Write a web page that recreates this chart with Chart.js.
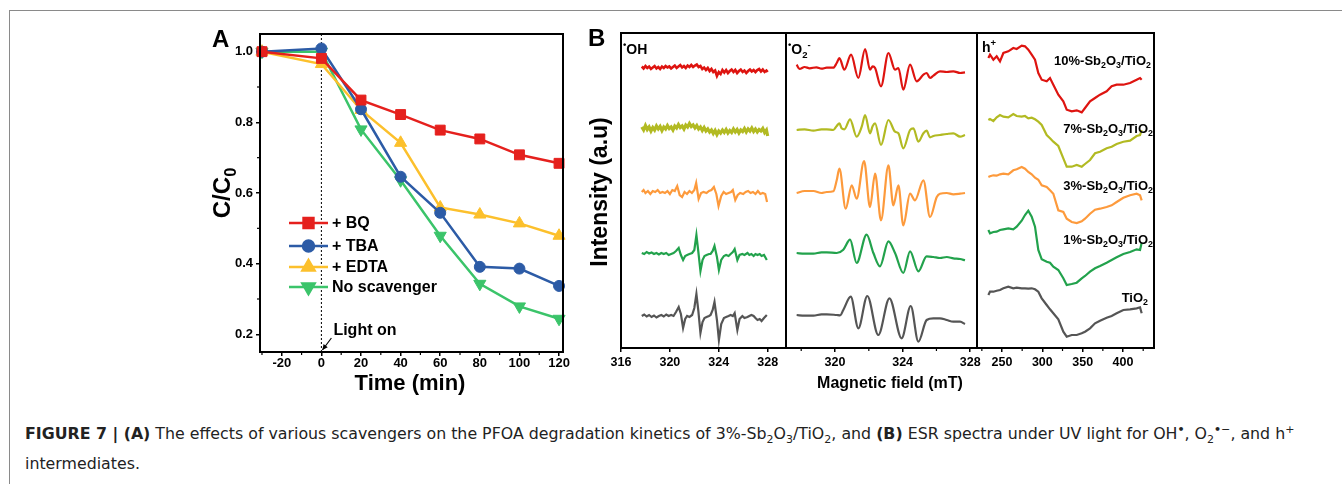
<!DOCTYPE html>
<html lang="en">
<head>
<meta charset="UTF-8">
<title>Figure 7</title>
<script src="https://cdn.jsdelivr.net/npm/chart.js@4.4.0/dist/chart.umd.min.js"></script>
<style>
body { margin: 0; width: 1342px; height: 484px; overflow: hidden; background: #fff; font-family: "Liberation Sans", Arial, sans-serif; position: relative; }
#frame { position: absolute; left: 9px; top: 10px; width: 1400px; height: 500px; border-left: 1.5px solid #8a8a8a; border-top: 1.5px solid #8a8a8a; }
canvas { position: absolute; }
.lbl { position: absolute; font-weight: bold; color: #000; white-space: nowrap; line-height: 1; }
.lbl sub, .lbl sup { font-size: 0.68em; line-height: 0; }
.rot { transform: translate(-50%, -50%) rotate(-90deg); }
.ctr { transform: translate(-50%, -50%); }
.rgt { transform: translate(-100%, -50%); }
#cap { position: absolute; left: 25px; top: 419px; font-family: "DejaVu Sans", sans-serif; font-size: 15.8px; line-height: 30px; color: #222; white-space: nowrap; }
#cap sub, #cap sup { font-size: 0.7em; line-height: 0; }
</style>
</head>
<body>
<div id="frame"></div>
<canvas id="cA" width="380" height="370" style="left:200px;top:20px"></canvas>
<canvas id="cB1" width="210" height="370" style="left:590px;top:20px"></canvas>
<canvas id="cB2" width="220" height="370" style="left:770px;top:20px"></canvas>
<canvas id="cB3" width="215" height="370" style="left:960px;top:20px"></canvas>

<div class="lbl" style="left:212px;top:27px;font-size:24px">A</div>
<div class="lbl" style="left:588px;top:26px;font-size:24px">B</div>
<div class="lbl rot" style="left:222px;top:193px;font-size:24px">C/C<sub>0</sub></div>
<div class="lbl ctr" style="left:410px;top:383px;font-size:22px">Time (min)</div>
<div class="lbl rot" style="left:599px;top:192px;font-size:23px">Intensity (a.u)</div>
<div class="lbl ctr" style="left:890px;top:383px;font-size:16px">Magnetic field (mT)</div>
<div class="lbl" style="left:623px;top:42px;font-size:14px"><sup>•</sup>OH</div>
<div class="lbl" style="left:788px;top:42px;font-size:14px"><sup>•</sup>O<sub>2</sub><sup>-</sup></div>
<div class="lbl" style="left:982px;top:40px;font-size:14px">h<sup>+</sup></div>
<div class="lbl rgt" style="left:1151px;top:60px;font-size:13px">10%-Sb<sub>2</sub>O<sub>3</sub>/TiO<sub>2</sub></div>
<div class="lbl rgt" style="left:1153px;top:128px;font-size:13px">7%-Sb<sub>2</sub>O<sub>3</sub>/TiO<sub>2</sub></div>
<div class="lbl rgt" style="left:1153px;top:185px;font-size:13px">3%-Sb<sub>2</sub>O<sub>3</sub>/TiO<sub>2</sub></div>
<div class="lbl rgt" style="left:1153px;top:239px;font-size:13px">1%-Sb<sub>2</sub>O<sub>3</sub>/TiO<sub>2</sub></div>
<div class="lbl rgt" style="left:1148px;top:297px;font-size:13px">TiO<sub>2</sub></div>

<div id="cap"><b>FIGURE 7 | (A)</b> The effects of various scavengers on the PFOA degradation kinetics of 3%-Sb<sub>2</sub>O<sub>3</sub>/TiO<sub>2</sub>, and <b>(B)</b> ESR spectra under UV light for OH<sup><b>•</b></sup>, O<sub>2</sub><sup><b>•</b>−</sup>, and h<sup>+</sup><br>intermediates.</div>

<script>
// ---- panel A: scavenger kinetics ----
const A_TIME = [-30, 0, 20, 40, 60, 80, 100, 120];
const A_BQ   = [1.0, 0.981, 0.863, 0.822, 0.778, 0.753, 0.708, 0.684];
const A_TBA  = [1.0, 1.009, 0.837, 0.646, 0.544, 0.391, 0.386, 0.337];
const A_EDTA = [1.0, 0.965, 0.835, 0.742, 0.559, 0.539, 0.514, 0.479];
const A_NONE = [1.0, 1.0, 0.780, 0.636, 0.479, 0.343, 0.279, 0.244];
const A_LABELS = ['+ BQ', '+ TBA', '+ EDTA', 'No scavenger'];
const A_X_TICKS = [-20, 0, 20, 40, 60, 80, 100, 120];
const A_X_MINOR = [-30, -10, 10, 30, 50, 70, 90, 110];
const A_Y_TICKS = [0.2, 0.4, 0.6, 0.8, 1.0];
const A_Y_MINOR = [0.3, 0.5, 0.7, 0.9];

// ---- panel B: ESR spectra (field, intensity relative to each trace's baseline) ----
// order of traces: 10%, 7%, 3%, 1% Sb2O3/TiO2, TiO2
const B_NAMES = ['10%-Sb2O3/TiO2', '7%-Sb2O3/TiO2', '3%-Sb2O3/TiO2', '1%-Sb2O3/TiO2', 'TiO2'];

// .OH
const OH_NOISE_X = [317.70,317.85,318.00,318.15,318.30,318.45,318.60,318.75,318.90,319.05,319.20,319.35,319.50,319.65,319.80,319.95,320.10,320.25,320.40,320.55,320.70,320.85,321.00,321.15,321.30,321.45,321.60,321.75,321.90,322.05,322.20,322.35,322.50,322.65,322.80,322.95,323.10,323.25,323.40,323.55,323.70,323.85,324.00,324.15,324.30,324.45,324.60,324.75,324.90,325.05,325.20,325.35,325.50,325.65,325.80,325.95,326.10,326.25,326.40,326.55,326.70,326.85,327.00,327.15,327.30,327.45,327.60,327.75,327.90,328.00];
const OH_10_Y = [1.5,-0.5,2,0,1.5,-1,0.5,2,-0.5,1, -1,1.5,0,2,0.5,1.5,-0.5,1,2.5,0, 1.5,3,0.5,2,0,2.5,1,3,1,2.5, 3.5,1,2,-1,0.5,-2,0,-3,-1,-4, -2.5,-8,-4,-6,-2,-4.5,-2,-5,-3,-1.5, -4,-2,-5,-3,-1.5,-4,-2.5,-5,-3,-1.5, -3.5,-2,-4,-2,-1,-3.5,-1.5,-4,-2.5,-4];
const OH_7_Y = [1,-2,2.5,-1.5,1,-3,0.5,-2,2,-1, 1.5,-2.5,1,-1,2.5,-0.5,1,-2,2,0, 3.5,0.5,2,-1,3,1,4.5,1.5,3,0, 2.5,-1,1,-2.5,0.5,-3,-1,-4,-2,-5.5, -2.5,-6.5,-3,-5,-2,-4.5,-1.5,-5,-2.5,-4.5, -1,-4,-1.5,-5,-2,-3.5,-0.5,-4,-1,-3, 0,-3.5,-1,-4,-1.5,-3,-0.5,-4.5,-2,-8];
const OH_3_X = [317.7,317.85,318.0,318.2,318.4,318.6,318.8,319.0,319.2,319.4,319.6,319.8,320.0,320.2,320.4,320.6,320.8,321.0,321.2,321.4,321.6,321.8,322.0,322.15,322.35,322.55,322.75,323.0,323.2,323.4,323.6,323.8,323.98,324.2,324.4,324.6,324.8,325.0,325.15,325.35,325.55,325.75,326.0,326.2,326.4,326.6,326.8,327.0,327.2,327.4,327.6,327.8,327.95];
const OH_3_Y = [0,2,-1,1,-2,1,0,2,-1,0, -1,1,-2,2,1,6,-3,-5,0,-2, 1,-1,2,9,-7,-1,0,-1,1,2, 5,-2,-14,-4,0,-2,-1,0,2,-8, -3,-1,-2,0,1,-1,0,-2,1,-2, -1,-2,-10];
const OH_SHARP_X = [317.70,317.9,318.1,318.3,318.5,318.7,318.9,319.1,319.3,319.5,319.7,319.9,320.1,320.3,320.5,320.72,320.9,321.08,321.25,321.41,321.6,321.82,322.0,322.17,322.33,322.5,322.67,322.83,323.0,323.2,323.33,323.5,323.65,323.85,324.01,324.2,324.42,324.6,324.8,324.97,325.15,325.30,325.52,325.7,325.93,326.1,326.35,326.5,326.67,326.85,327.0,327.17,327.35,327.5,327.7,327.93];
const OH_1_Y = [1,0,2,0.5,1.5,0,1,-0.5,1,0, 1,-1,0,1,3,6,-1,-6,-2,-1, 0,1,4,19,2,-17,-6,-2,-1,0, 0,3,8,-3,-16,-6,-2,-1,-2,0, 2,5,-6,-1,0,-1,1,-1,0,-2, 0,-1,0,-2,-1,-6];
const OH_0_Y = [0,1.5,-0.5,1,-1,0.5,-1.5,0,1,-0.5, 1.5,0,1,0,4,9,2,-12,-3,0, -1,1,8,22,5,-17,-6,-2,-1,0, 1,6,14,-4,-24,-8,-2,-1,0,1, 0,3,-14,-3,0,-2,-1,0,1,0, -2,-4,-3,-5,-2,1];
const OH_OFFSETS = [280, 220, 156, 94, 32];

// .O2-
const O2_10_X = [317.73,317.9,318.2,318.5,318.9,319.2,319.51,319.90,320.10,320.26,320.55,320.95,321.38,321.78,322.07,322.23,322.37,322.72,323.16,323.55,323.75,324.04,324.44,324.83,325.23,325.42,325.62,325.82,326.21,326.61,327.00,327.40,327.69];
const O2_10_Y = [3.3,-1,1,-0.3,0.7,-0.7,0.3,0.3,5,10,-1.7,13.3,-10,19,-1.7,1.7,0,-18.3,15,-1.7,0,-21.7,3.3,-13.3,-6.7,-5,-10,-7.7,-3.3,-4,-3.3,-5,-4.3];
const O2_7_X = [317.73,318.2,318.72,319.2,319.51,319.90,320.10,320.26,320.39,320.55,320.89,321.28,321.58,321.78,322.07,322.23,322.37,322.72,323.16,323.55,323.75,324.04,324.44,324.64,324.93,325.23,325.42,325.62,325.82,326.21,326.61,327.00,327.40,327.69];
const O2_7_Y = [0,0.7,-0.7,0.7,0.7,0,4,6.7,1.7,0.7,10.7,-6.7,3.3,15,-3.3,4,6.7,-15,10,-1.7,-3.3,-18.3,0,1.7,-11.7,-3.3,-0.7,-7.3,-6,-5,-4,-3.3,-6.7,-5];
const O2_3_X = [317.73,318.2,318.72,319.2,319.51,319.90,320.10,320.26,320.63,320.99,321.28,321.72,322.07,322.37,322.72,323.16,323.45,323.75,324.04,324.44,324.73,325.23,325.62,326.02,326.21,326.61,327.00,327.40,327.69];
const O2_3_Y = [-1,1,1,-1,0,0.7,11.7,23.3,-16.7,6.7,-6.7,31,-15,18.3,-28.3,26.7,-13.3,6.7,-33.3,-1.7,-8.3,11.7,-25,-5,-1.7,-1,-2.3,-1.7,-1];
const O2_1_X = [317.73,318.2,318.72,319.2,319.51,320.10,320.49,320.89,321.28,321.87,322.27,322.66,323.16,323.55,324.04,324.44,324.93,325.42,325.82,326.21,326.61,327.00,327.40,327.69];
const O2_1_Y = [0,-0.7,-0.7,0.7,0.7,0,3.3,13.3,-10,18.3,0,-13.3,11.7,0,-20,1.7,-18.3,-3.3,-4,-5,-4,-5.3,-6,-7.3];
const O2_0_X = [317.73,318.2,318.72,319.2,319.51,320.10,320.30,320.49,320.93,321.38,321.91,322.56,323.22,323.94,324.48,324.93,325.42,325.82,326.21,326.61,327.00,327.40,327.69];
const O2_0_Y = [0,-0.7,-0.7,0.7,0.7,0,-0.3,5,18.3,-13.3,19,-20,16.7,-23.3,9,-26.7,-5,-3.3,-3.3,-5,-6.7,-6.7,-9];
const O2_OFFSETS = [280, 218, 156, 95, 33];

// h+
const H_X = [233.1,235.1,239.3,243.4,247.5,251.7,257.8,264.0,268.2,274.4,278.5,282.6,286.8,290.9,295.0,299.2,305.4,309.5,313.6,319.8,326.0,330.2,336.4,342.6,348.8,352.9,359.1,365.3,371.5,379.7,385.9,392.1,400.4,408.7,416.9,421.1,423.1];
const H_10_Y = [0,3.3,-1.7,1.7,-3.3,5,6.7,10,9,12.3,11.7,8.3,3.3,-1.7,-15,-21.7,-23.3,-20,-26.7,-36.7,-43.3,-51.7,-53.3,-52.3,-54.3,-50,-43.3,-40,-36.7,-33.3,-28.3,-26.7,-26.7,-25,-21.7,-20,-21.7];
const H_7_Y = [0,1,-1,2.7,5,3.3,2.7,6,4,3.3,4,1.7,2.3,0.7,-1.7,-5,-15,-18.3,-21.7,-26,-38.3,-46.7,-46.7,-45,-46.7,-44,-40,-33.3,-31.7,-28.3,-26.7,-24,-21.7,-20.7,-16,-15,-10];
const H_3_Y = [0,0.7,1.7,1.3,2.7,3.3,2.7,6.7,7.7,10,8.3,5,2.7,-0.7,-2.7,-8.3,-10,-13.3,-16.7,-33.3,-35,-41.7,-45,-46,-44.3,-41.7,-36.7,-32.7,-31.7,-30,-28.3,-25,-20.7,-18.3,-16.7,-18.3,-23.3];
const H_1_Y = [0,-3.3,-2,-1.7,0,0.7,1.7,0.7,3.3,9.3,15,19.3,13.3,3.3,-20,-29.3,-31.7,-32.7,-36.7,-40,-48.3,-55,-54,-52.7,-48.3,-46,-41.7,-38.3,-36,-32.7,-30,-27.3,-24,-22,-19.3,-20,-12.7];
const H_0_Y = [0,3.3,3.3,4.3,5,6.7,8.3,6.7,7.3,6.7,6.7,6.3,6.7,5.7,3.3,-3.3,-10,-14.3,-18.3,-24.3,-36.7,-41.7,-40,-40,-38.3,-36.7,-33.3,-28.3,-25.7,-22.7,-21,-18.3,-15,-14.3,-13.3,-12.3,-18.3];
const H_OFFSETS = [290, 228, 171, 118, 53];

const B1_TICKS = [316, 320, 324, 328];
const B2_TICKS = [320, 324, 328];
const B2_MINOR = [318, 322, 326];
const B3_TICKS = [250, 300, 350, 400];
const B3_MINOR = [225, 275, 325, 375, 425];

const FONT = "'Liberation Sans', Arial, sans-serif";
const A_COLORS = ['#e5201d', '#2c5ba6', '#fcc02c', '#3bc46a'];
const B_COLORS = ['#de1410', '#b2ba22', '#fd9a3c', '#22a24c', '#555555'];

function toPoints(xs, ys, off) {
    return xs.map((x, i) => ({ x: x, y: ys[i] + (off || 0) }));
}

// frame round the plot area and extra tick marks
const boxPlugin = {
    id: 'box',
    afterDraw(chart, args, opts) {
        const ctx = chart.ctx, a = chart.chartArea;
        ctx.save();
        ctx.strokeStyle = '#000';
        ctx.lineWidth = 2;
        ctx.strokeRect(a.left, a.top, a.right - a.left, a.bottom - a.top);
        ctx.lineWidth = 1.2;
        (opts.xMinor || []).forEach(v => {
            const px = chart.scales.x.getPixelForValue(v);
            ctx.beginPath(); ctx.moveTo(px, a.bottom); ctx.lineTo(px, a.bottom + 3); ctx.stroke();
        });
        (opts.yMinor || []).forEach(v => {
            const py = chart.scales.y.getPixelForValue(v);
            ctx.beginPath(); ctx.moveTo(a.left, py); ctx.lineTo(a.left - 3, py); ctx.stroke();
        });
        ctx.restore();
    }
};

// light-on marker and legend for panel A
const annotPlugin = {
    id: 'annot',
    beforeDatasetsDraw(chart) {
        const ctx = chart.ctx, a = chart.chartArea;
        const x0 = chart.scales.x.getPixelForValue(0);
        ctx.save();
        ctx.strokeStyle = '#000';
        ctx.lineWidth = 1;
        ctx.setLineDash([2, 2]);
        ctx.beginPath(); ctx.moveTo(x0, a.top); ctx.lineTo(x0, a.bottom); ctx.stroke();
        ctx.restore();
    },
    afterDraw(chart) {
        const ctx = chart.ctx, a = chart.chartArea;
        const x0 = chart.scales.x.getPixelForValue(0);
        ctx.save();
        ctx.fillStyle = '#000';
        ctx.strokeStyle = '#000';
        ctx.font = 'bold 16px ' + FONT;
        ctx.textBaseline = 'middle';
        ctx.fillText('Light on', x0 + 12, a.bottom - 21);
        // arrow
        const sx = x0 + 10, sy = a.bottom - 14, ex = x0 + 1, ey = a.bottom - 2;
        ctx.lineWidth = 1.2;
        ctx.beginPath(); ctx.moveTo(sx, sy); ctx.lineTo(ex, ey); ctx.stroke();
        const ang = Math.atan2(ey - sy, ex - sx);
        ctx.beginPath();
        ctx.moveTo(ex, ey);
        ctx.lineTo(ex - 6 * Math.cos(ang - 0.45), ey - 6 * Math.sin(ang - 0.45));
        ctx.lineTo(ex - 6 * Math.cos(ang + 0.45), ey - 6 * Math.sin(ang + 0.45));
        ctx.closePath(); ctx.fill();

        // legend
        const rows = [203, 226, 247, 267];
        chart.data.datasets.forEach((ds, i) => {
            const y = rows[i];
            ctx.strokeStyle = ds.borderColor;
            ctx.fillStyle = ds.backgroundColor;
            ctx.lineWidth = 2.5;
            ctx.beginPath(); ctx.moveTo(89, y); ctx.lineTo(128, y); ctx.stroke();
            Chart.helpers.drawPoint(ctx, {
                pointStyle: ds.pointStyle, radius: ds.pointRadius,
                rotation: ds.pointRotation || 0, borderWidth: 1
            }, 108.5, y);
            ctx.fillStyle = '#000';
            ctx.font = 'bold 16px ' + FONT;
            ctx.fillText(A_LABELS[i], 132, y + 1);
        });
        ctx.restore();
    }
};

const tickFont = { family: FONT, weight: 'bold', size: 13 };

new Chart(document.getElementById('cA'), {
    type: 'line',
    data: {
        datasets: [A_BQ, A_TBA, A_EDTA, A_NONE].map((ys, i) => ({
            label: A_LABELS[i],
            data: toPoints(A_TIME, ys),
            borderColor: A_COLORS[i],
            backgroundColor: A_COLORS[i],
            borderWidth: 2.5,
            pointStyle: ['rect', 'circle', 'triangle', 'triangle'][i],
            pointRotation: i === 3 ? 180 : 0,
            pointRadius: [7, 5.5, 7, 7][i],
            pointBorderWidth: 1,
            clip: false
        }))
    },
    options: {
        responsive: false,
        animation: false,
        layout: { padding: { top: 14, right: 17, left: 0, bottom: 0 } },
        plugins: { legend: { display: false }, tooltip: { enabled: false }, box: { xMinor: A_X_MINOR, yMinor: A_Y_MINOR } },
        scales: {
            x: {
                type: 'linear', min: -31, max: 122,
                afterBuildTicks: s => { s.ticks = A_X_TICKS.map(v => ({ value: v })); },
                afterFit: s => { s.height = 38; },
                grid: { drawOnChartArea: false, tickLength: 4, color: '#000', lineWidth: 1.5 },
                border: { display: false },
                ticks: { font: tickFont, color: '#000', padding: 0, maxRotation: 0 }
            },
            y: {
                min: 0.15, max: 1.05,
                afterBuildTicks: s => { s.ticks = A_Y_TICKS.map(v => ({ value: v })); },
                afterFit: s => { s.width = 60; },
                grid: { drawOnChartArea: false, tickLength: 4, color: '#000', lineWidth: 1.5 },
                border: { display: false },
                ticks: { font: { family: FONT, weight: 'bold', size: 13 }, color: '#000', padding: 3, callback: v => v.toFixed(1) }
            }
        }
    },
    plugins: [boxPlugin, annotPlugin]
});

function spectrumChart(id, padL, padR, xmin, xmax, ticks, minor, traces, smooth, widths) {
    return new Chart(document.getElementById(id), {
        type: 'line',
        data: {
            datasets: traces.map((t, i) => ({
                label: B_NAMES[i],
                data: t,
                borderColor: B_COLORS[i],
                borderWidth: widths ? widths[i] : 2.2,
                pointRadius: 0,
                cubicInterpolationMode: smooth ? 'monotone' : 'default',
                tension: 0
            }))
        },
        options: {
            responsive: false,
            animation: false,
            layout: { padding: { top: 13, right: padR, left: padL, bottom: 0 } },
            plugins: { legend: { display: false }, tooltip: { enabled: false }, box: { xMinor: minor } },
            scales: {
                x: {
                    type: 'linear', min: xmin, max: xmax,
                    afterBuildTicks: s => { s.ticks = ticks.map(v => ({ value: v })); },
                    afterFit: s => { s.height = 42; },
                    grid: { drawOnChartArea: false, tickLength: 4, color: '#000', lineWidth: 1.5 },
                    border: { display: false },
                    ticks: { font: { family: FONT, weight: 'bold', size: 12.5 }, color: '#000', padding: 3, maxRotation: 0 }
                },
                y: { display: false, min: 0, max: 315 }
            }
        },
        plugins: [boxPlugin]
    });
}

spectrumChart('cB1', 31, 14, 316, 329.5, B1_TICKS, [], [
    toPoints(OH_NOISE_X, OH_10_Y, OH_OFFSETS[0]),
    toPoints(OH_NOISE_X, OH_7_Y, OH_OFFSETS[1]),
    toPoints(OH_3_X, OH_3_Y, OH_OFFSETS[2]),
    toPoints(OH_SHARP_X, OH_1_Y, OH_OFFSETS[3]),
    toPoints(OH_SHARP_X, OH_0_Y, OH_OFFSETS[4])
], false, [2.6, 3.2, 2.2, 2.2, 2.2]);

spectrumChart('cB2', 16, 13, 317.1, 328.4, B2_TICKS, B2_MINOR, [
    toPoints(O2_10_X, O2_10_Y, O2_OFFSETS[0]),
    toPoints(O2_7_X, O2_7_Y, O2_OFFSETS[1]),
    toPoints(O2_3_X, O2_3_Y, O2_OFFSETS[2]),
    toPoints(O2_1_X, O2_1_Y, O2_OFFSETS[3]),
    toPoints(O2_0_X, O2_0_Y, O2_OFFSETS[4])
], true);

spectrumChart('cB3', 17, 21, 219, 438.4, B3_TICKS, B3_MINOR, [
    toPoints(H_X, H_10_Y, H_OFFSETS[0]),
    toPoints(H_X, H_7_Y, H_OFFSETS[1]),
    toPoints(H_X, H_3_Y, H_OFFSETS[2]),
    toPoints(H_X, H_1_Y, H_OFFSETS[3]),
    toPoints(H_X, H_0_Y, H_OFFSETS[4])
], false);
</script>
</body>
</html>
